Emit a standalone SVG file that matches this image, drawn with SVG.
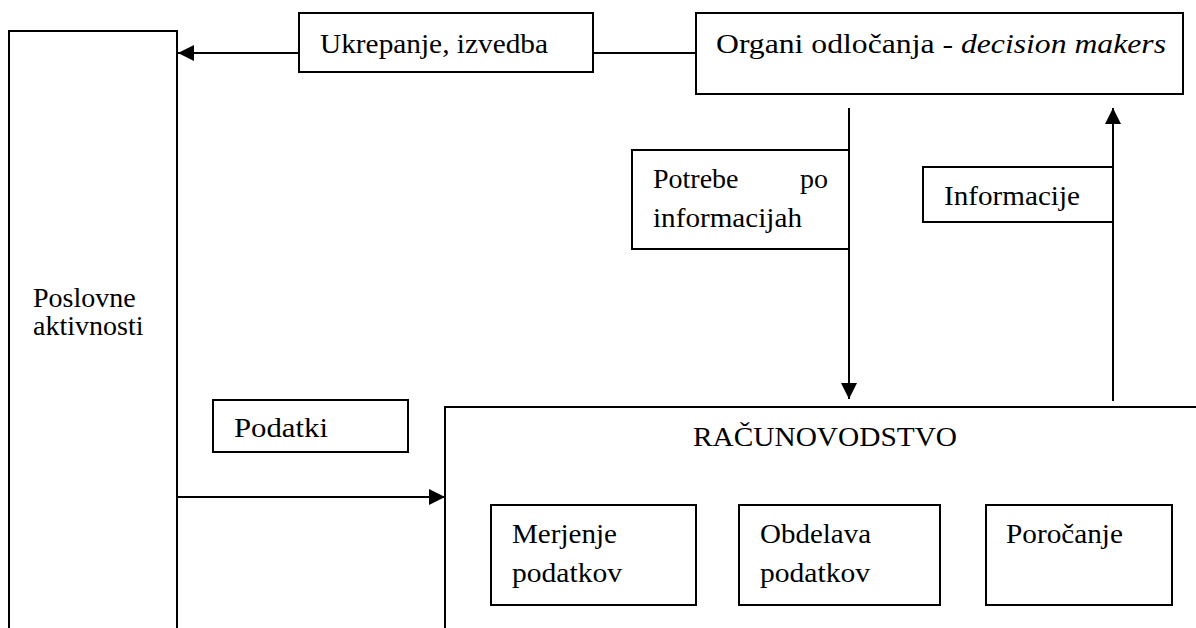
<svg xmlns="http://www.w3.org/2000/svg" width="1196" height="628" viewBox="0 0 1196 628">
<style>
.b{fill:#fff;stroke:#000;stroke-width:2}
.l{fill:none;stroke:#000;stroke-width:2}
</style>
<defs>
<marker id="ah2" markerWidth="16" markerHeight="16" refX="16" refY="8" orient="auto" markerUnits="userSpaceOnUse" viewBox="0 0 16 16">
<path d="M0,0 L16,8 L0,16 z" fill="#000"/>
</marker>
</defs>
<rect width="1196" height="628" fill="#fff"/>
<g id="connectors">
<line class="l" x1="299" y1="53" x2="178" y2="53" marker-end="url(#ah2)"/>
<line class="l" x1="593" y1="53" x2="696" y2="53"/>
<line class="l" x1="849" y1="108" x2="849" y2="399" marker-end="url(#ah2)"/>
<line class="l" x1="1113" y1="401" x2="1113" y2="108" marker-end="url(#ah2)"/>
<line class="l" x1="177" y1="497" x2="445" y2="497" marker-end="url(#ah2)"/>
</g>
<g font-family="Liberation Serif, Times New Roman, serif" font-size="28" fill="#000">
<g id="poslovne">
<path class="l" d="M9,640 V31 H177 V640"/>
<text x="33" y="307">Poslovne</text>
<text x="33" y="335">aktivnosti</text>
</g>
<g id="ukrepanje">
<rect class="b" x="299" y="13" width="294" height="59"/>
<text x="320" y="53" textLength="228" lengthAdjust="spacingAndGlyphs">Ukrepanje, izvedba</text>
</g>
<g id="organi">
<rect class="b" x="696" y="13" width="487" height="81"/>
<text x="716" y="53" textLength="450" lengthAdjust="spacingAndGlyphs">Organi odločanja - <tspan font-style="italic">decision makers</tspan></text>
</g>
<g id="potrebe">
<rect class="b" x="632" y="150" width="217" height="99"/>
<text x="653" y="188">Potrebe</text>
<text x="828" y="188" text-anchor="end">po</text>
<text x="653" y="227" textLength="149" lengthAdjust="spacingAndGlyphs">informacijah</text>
</g>
<g id="informacije">
<rect class="b" x="923" y="167" width="190" height="55"/>
<text x="944" y="205" textLength="136" lengthAdjust="spacingAndGlyphs">Informacije</text>
</g>
<g id="podatki">
<rect class="b" x="213" y="400" width="195" height="52"/>
<text x="234" y="437" textLength="94" lengthAdjust="spacingAndGlyphs">Podatki</text>
</g>
<g id="racunovodstvo">
<path class="l" d="M445,640 V407 H1200"/>
<text x="693" y="446" textLength="264" lengthAdjust="spacingAndGlyphs">RAČUNOVODSTVO</text>
</g>
<g id="merjenje">
<rect class="b" x="491" y="505" width="205" height="100"/>
<text x="512" y="543" textLength="105" lengthAdjust="spacingAndGlyphs">Merjenje</text>
<text x="512" y="582" textLength="110" lengthAdjust="spacingAndGlyphs">podatkov</text>
</g>
<g id="obdelava">
<rect class="b" x="739" y="505" width="201" height="100"/>
<text x="760" y="543" textLength="111" lengthAdjust="spacingAndGlyphs">Obdelava</text>
<text x="760" y="582" textLength="110" lengthAdjust="spacingAndGlyphs">podatkov</text>
</g>
<g id="porocanje">
<rect class="b" x="986" y="505" width="186" height="100"/>
<text x="1006" y="543" textLength="117" lengthAdjust="spacingAndGlyphs">Poročanje</text>
</g>
</g>
</svg>
